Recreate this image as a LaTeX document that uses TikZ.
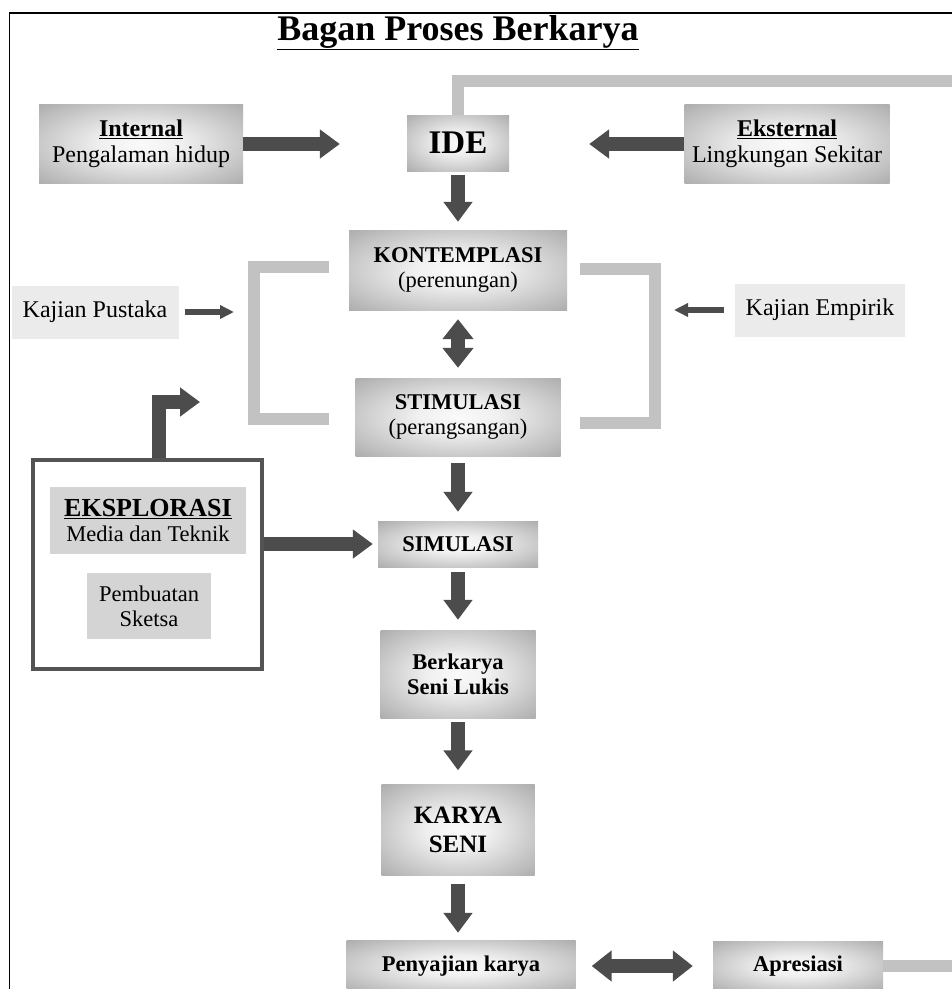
\documentclass[tikz,border=0pt]{standalone}
\usepackage{fontspec}
\setmainfont{Liberation Serif}
\usetikzlibrary{arrows.meta}
\pgfdeclareradialshading{boxglow}{\pgfpoint{0bp}{0bp}}{color(0bp)=(black!2); color(10bp)=(black!6); color(50bp)=(black!47); color(72bp)=(black!57)}

\begin{document}
\begin{tikzpicture}[x=1pt,y=-1pt,
    box/.style={shade,shading=boxglow,inner sep=0pt,align=center,font=\fontsize{22.5}{25}\selectfont},
    plainbox/.style={fill=black!8,inner sep=0pt,align=center,font=\fontsize{24}{26}\selectfont},
    greybox/.style={fill=black!17,inner sep=0pt,align=center,font=\fontsize{22.5}{25}\selectfont},
    bigarrow/.style={draw=black!70,line width=14pt,-{Triangle[length=20pt,width=28pt]}},
    twoarrow/.style={draw=black!70,line width=14pt,{Triangle[length=20pt,width=30pt]}-{Triangle[length=20pt,width=30pt]}},
    smallarrow/.style={draw=black!70,line width=6pt,-{Triangle[length=14pt,width=13pt]}},
    greyline/.style={draw=black!24,line width=12pt}]
    \useasboundingbox (0,0) rectangle (952,989);
    \clip (0,0) rectangle (952,989);
    \fill[white] (0,0) rectangle (952,989);
    \draw[line width=1.2pt] (9.5,989)--(9.5,13)--(952,13);
    \node[anchor=base,font=\fontsize{36}{38}\selectfont\bfseries] (title) at (458,40) {\underline{Bagan Proses Berkarya}};

    % top row
    \node[box,minimum width=204pt,minimum height=79pt,font=\fontsize{24}{26}\selectfont] (int) at (141,144) {\textbf{\underline{Internal}}\\Pengalaman hidup};
    \node[box,minimum width=102pt,minimum height=56pt,font=\fontsize{33}{36}\selectfont\bfseries] (ide) at (458,143) {IDE};
    \node[box,minimum width=205pt,minimum height=79pt,font=\fontsize{24}{26}\selectfont] (eks) at (787,144) {\textbf{\underline{Eksternal}}\\Lingkungan Sekitar};

    % middle column
    \node[box,minimum width=218pt,minimum height=80pt] (kon) at (458,270) {\textbf{KONTEMPLASI}\\(perenungan)};
    \node[box,minimum width=205pt,minimum height=78pt] (sti) at (458,417) {\textbf{STIMULASI}\\(perangsangan)};
    \node[box,minimum width=160pt,minimum height=46pt,font=\fontsize{22.5}{25}\selectfont\bfseries] (sim) at (458,544) {SIMULASI};
    \node[box,minimum width=155pt,minimum height=88pt,font=\fontsize{22.5}{25}\selectfont\bfseries] (ber) at (458,674) {Berkarya\\Seni Lukis};
    \node[box,minimum width=153pt,minimum height=91pt,font=\fontsize{25}{29}\selectfont\bfseries] (kar) at (458,830) {KARYA\\SENI};
    \node[box,minimum width=229pt,minimum height=52pt,font=\fontsize{22.5}{25}\selectfont\bfseries] (pen) at (461,966) {Penyajian karya};
    \node[box,minimum width=170pt,minimum height=50pt,font=\fontsize{22.5}{25}\selectfont\bfseries] (apr) at (798,966) {Apresiasi};

    % kajian
    \node[plainbox,minimum width=167pt,minimum height=53pt] (pus) at (95,312) {Kajian Pustaka};
    \node[plainbox,minimum width=170pt,minimum height=53pt] (emp) at (820,310) {Kajian Empirik};
    \coordinate (lbr) at (234,312);
    \coordinate (rbr) at (674,310);
    \draw[greyline] (329,267)-|(254,419)--(329,419);
    \draw[greyline] (580,269)-|(655,423)--(580,423);

    % eksplorasi
    \node[draw=black!67,line width=4pt,minimum width=229pt,minimum height=209pt] (eksframe) at (147.5,564.5) {};
    \node[greybox,minimum width=196pt,minimum height=67pt] (eksp) at (148,520.5) {{\fontsize{26}{28}\selectfont\bfseries\underline{EKSPLORASI}}\\Media dan Teknik};
    \node[greybox,minimum width=124pt,minimum height=66pt] (sket) at (149,606) {Pembuatan\\Sketsa};
    \coordinate (eksup) at (200,402);

    % arrows
    \draw[bigarrow,shorten >=67pt] (int.east)--(int.east-|ide.west);
    \draw[bigarrow,shorten >=80pt] (eks.west)--(eks.west-|ide.east);
    \draw[bigarrow,shorten <=4pt,shorten >=8pt] (ide)--(kon);
    \draw[twoarrow,shorten <=9pt,shorten >=10pt] (kon)--(sti);
    \draw[bigarrow,shorten <=7pt,shorten >=9pt] (sti)--(sim);
    \draw[bigarrow,shorten <=5pt,shorten >=10pt] (sim)--(ber);
    \draw[bigarrow,shorten <=4pt,shorten >=14pt] (ber)--(kar);
    \draw[bigarrow,shorten <=8pt,shorten >=7pt] (kar.south)--(kar.south|-pen.north);
    \draw[twoarrow,shorten <=16pt,shorten >=20pt] (pen)--(apr);
    \draw[smallarrow,shorten <=6pt] (pus)--(lbr);
    \draw[smallarrow,shorten <=11pt] (emp)--(rbr);
    \draw[bigarrow,shorten >=5pt] (eksframe.east|-sim)--(sim.west);
    \draw[bigarrow] ([xshift=11.5pt]eksframe.north)|-(eksup);

    % feedback
    \coordinate (loopR) at (958,81);
    \draw[greyline] (apr.east)-|(loopR)-|(ide.north);
\end{tikzpicture}
\end{document}
